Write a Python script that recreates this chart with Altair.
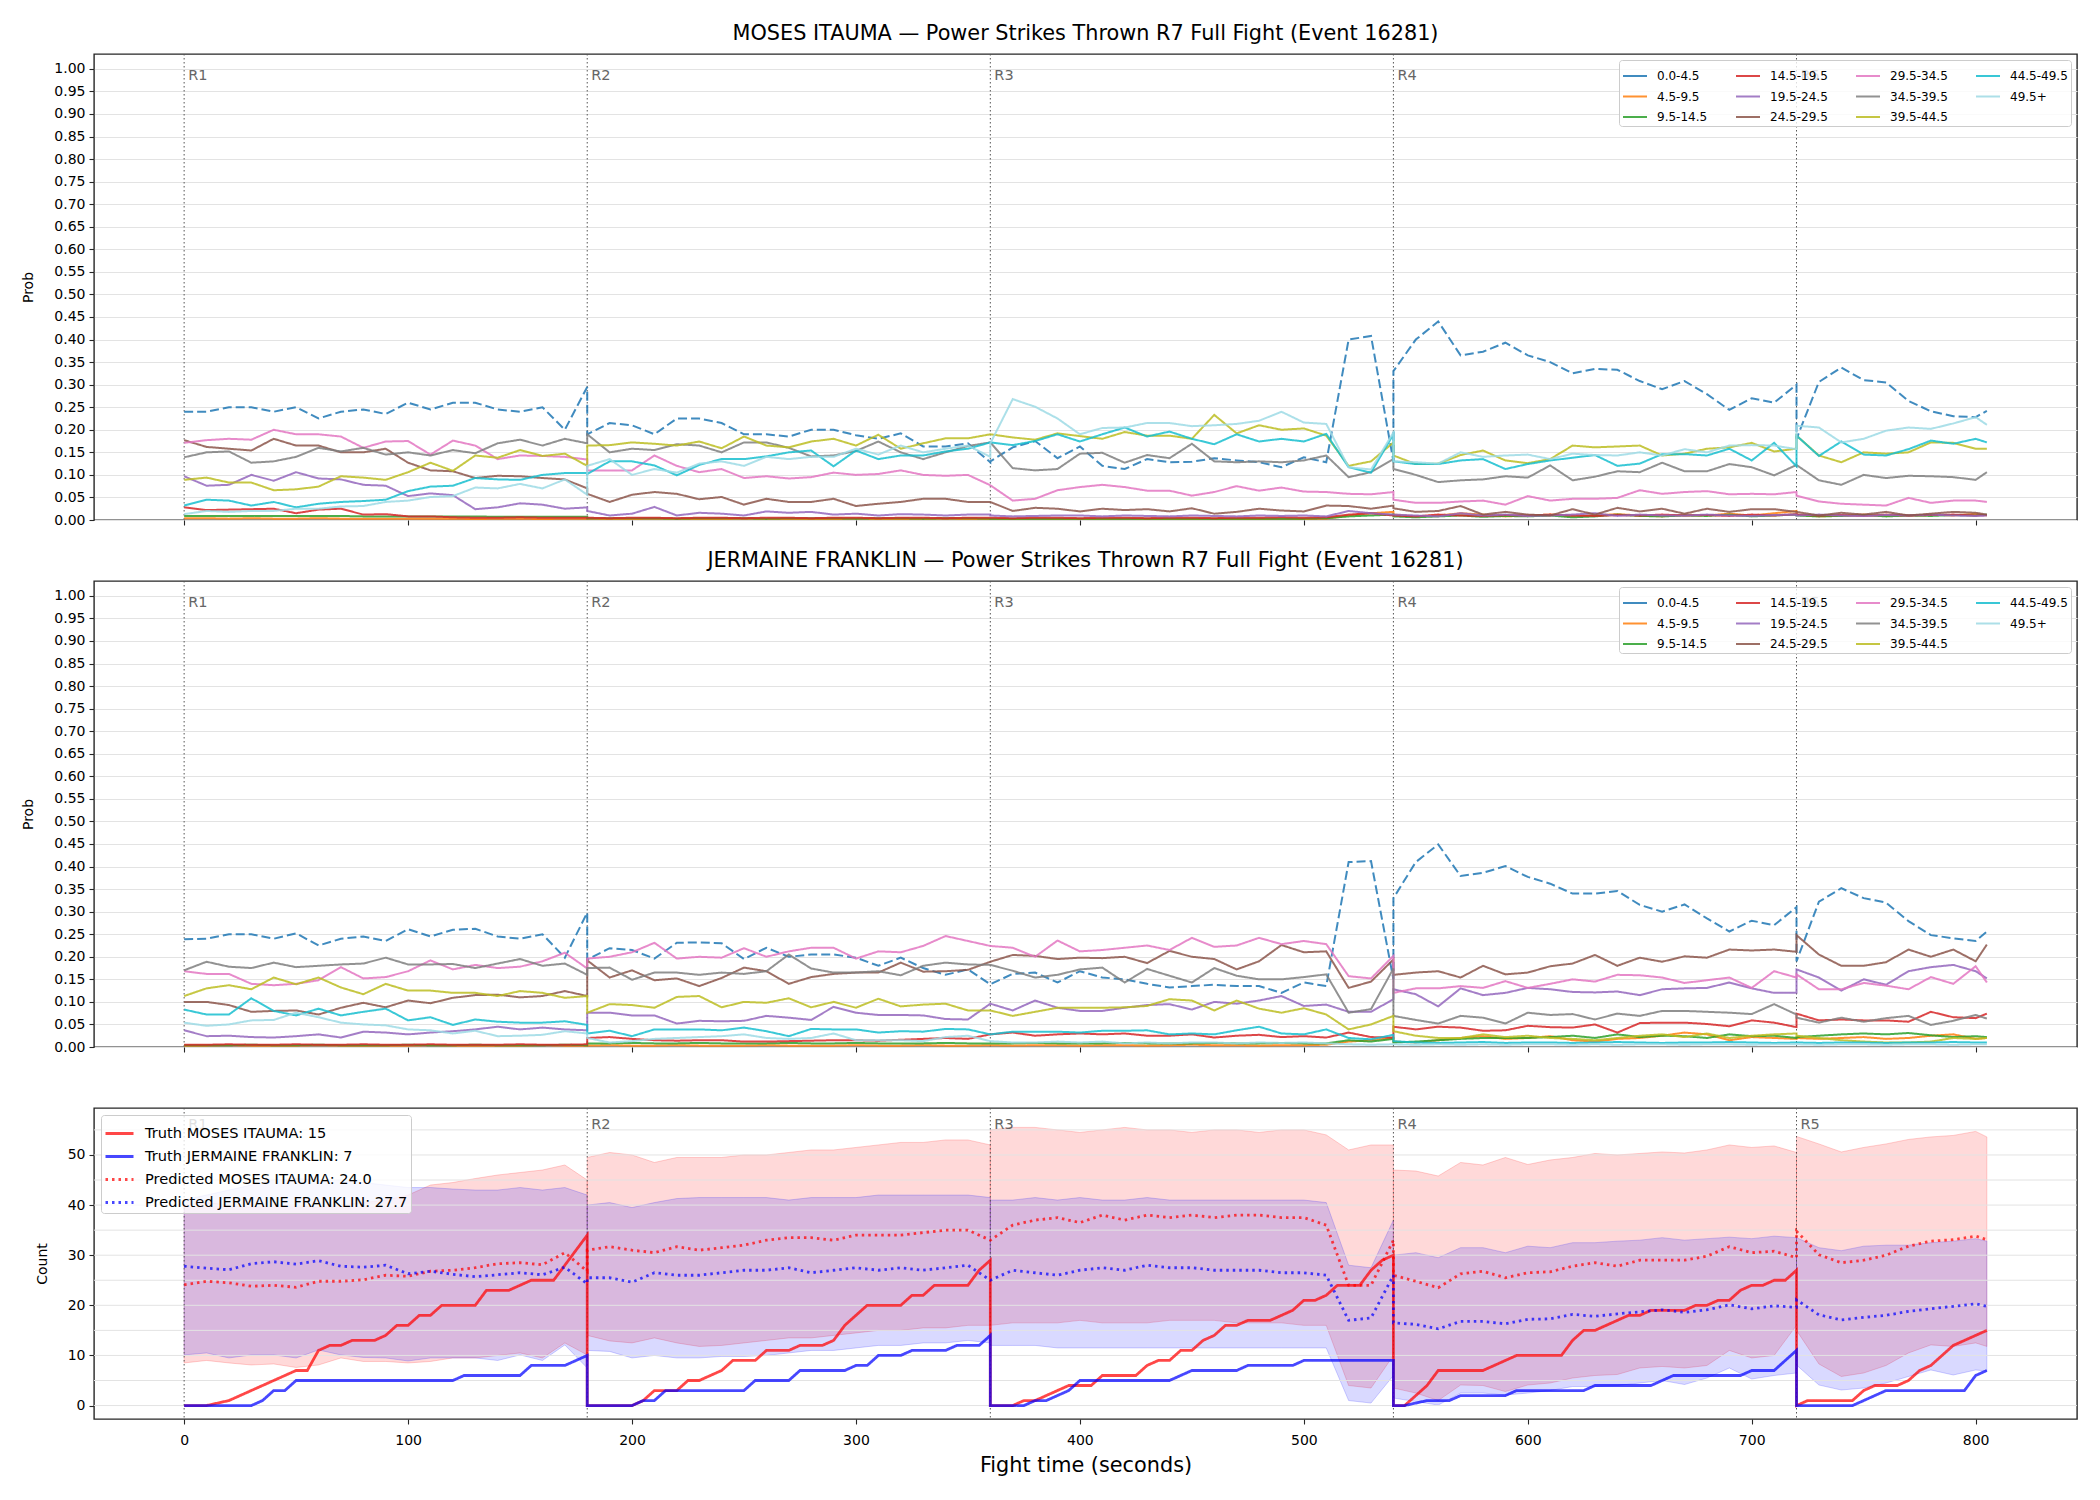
import altair as alt
import pandas as pd

# ---------------------------------------------------------------- time grids
# Probability panels and the predicted/band series are sampled every 10 s;
# each round repeats its boundary second so curves jump at the round change.
T_R1 = list(range(0, 181, 10))
T_R2 = list(range(180, 361, 10))
T_R3 = list(range(360, 541, 10))
T_R4 = list(range(540, 721, 10))
T_R5 = list(range(720, 801, 10)) + [805]
T_PROB = T_R1 + T_R2 + T_R3 + T_R4 + T_R5
ROUND_OF = [1] * len(T_R1) + [2] * len(T_R2) + [3] * len(T_R3) + [4] * len(T_R4) + [5] * len(T_R5)

# Truth counts are sampled every 5 s.
T5 = (list(range(0, 181, 5)) + list(range(180, 361, 5)) + list(range(360, 541, 5))
      + list(range(540, 721, 5)) + list(range(720, 806, 5)))

ROUND_STARTS = [0, 180, 360, 540, 720]
ROUND_LABELS = ["R1", "R2", "R3", "R4", "R5"]

BINS = ["0.0-4.5", "4.5-9.5", "9.5-14.5", "14.5-19.5", "19.5-24.5", "24.5-29.5",
        "29.5-34.5", "34.5-39.5", "39.5-44.5", "44.5-49.5", "49.5+"]
BIN_COLORS = ["#1f77b4", "#ff7f0e", "#2ca02c", "#d62728", "#9467bd", "#8c564b",
              "#e377c2", "#7f7f7f", "#bcbd22", "#17becf", "#9edae5"]

# ------------------------------------------------ MOSES ITAUMA probabilities
ITA_00 = [0.24, 0.24, 0.25, 0.25, 0.24, 0.25, 0.225, 0.24, 0.245, 0.235, 0.26, 0.245, 0.26, 0.26, 0.245, 0.24, 0.25, 0.20, 0.295,
          0.19, 0.215, 0.21, 0.19, 0.225, 0.225, 0.215, 0.19, 0.19, 0.185, 0.20, 0.20, 0.188, 0.18, 0.192, 0.163, 0.163, 0.17, 0.128,
          0.13, 0.161, 0.175, 0.137, 0.163, 0.12, 0.113, 0.135, 0.128, 0.129, 0.137, 0.132, 0.128, 0.117, 0.139, 0.128, 0.40, 0.408, 0.13,
          0.33, 0.40, 0.44, 0.365, 0.373, 0.393, 0.365, 0.35, 0.325, 0.335, 0.333, 0.308, 0.29, 0.308, 0.279, 0.244, 0.27, 0.26, 0.30,
          0.18, 0.306, 0.338, 0.31, 0.305, 0.264, 0.241, 0.23, 0.228, 0.242]
ITA_45 = [0.004, 0.004, 0.003, 0.004, 0.003, 0.003, 0.004, 0.003, 0.003, 0.003, 0.003, 0.003, 0.003, 0.002, 0.003, 0.003, 0.002, 0.003, 0.003,
          0.003, 0.002, 0.002, 0.003, 0.002, 0.002, 0.002, 0.003, 0.002, 0.002, 0.002, 0.002, 0.003, 0.002, 0.002, 0.002, 0.003, 0.002, 0.002,
          0.002, 0.002, 0.003, 0.002, 0.002, 0.002, 0.003, 0.002, 0.002, 0.002, 0.003, 0.002, 0.002, 0.003, 0.002, 0.003, 0.01, 0.015, 0.018,
          0.012, 0.008, 0.01, 0.015, 0.012, 0.008, 0.01, 0.012, 0.009, 0.01, 0.013, 0.01, 0.008, 0.012, 0.01, 0.014, 0.01, 0.015, 0.02,
          0.012, 0.008, 0.01, 0.012, 0.009, 0.01, 0.012, 0.01, 0.014, 0.01]
ITA_95 = [0.009, 0.009, 0.009, 0.009, 0.009, 0.009, 0.009, 0.009, 0.008, 0.008, 0.008, 0.008, 0.008, 0.008, 0.007, 0.007, 0.007, 0.007, 0.007,
          0.004, 0.004, 0.004, 0.004, 0.003, 0.004, 0.004, 0.004, 0.003, 0.004, 0.004, 0.004, 0.003, 0.004, 0.004, 0.003, 0.004, 0.004, 0.003,
          0.003, 0.003, 0.003, 0.003, 0.003, 0.003, 0.003, 0.003, 0.003, 0.003, 0.003, 0.003, 0.003, 0.003, 0.003, 0.004, 0.008, 0.01, 0.012,
          0.008, 0.006, 0.008, 0.01, 0.007, 0.009, 0.008, 0.01, 0.006, 0.008, 0.012, 0.009, 0.008, 0.01, 0.009, 0.012, 0.008, 0.01, 0.012,
          0.01, 0.008, 0.009, 0.011, 0.008, 0.01, 0.009, 0.011, 0.01, 0.012]
ITA_145 = [0.028, 0.022, 0.023, 0.024, 0.025, 0.015, 0.023, 0.025, 0.012, 0.013, 0.008, 0.008, 0.006, 0.005, 0.005, 0.006, 0.005, 0.005, 0.005,
           0.005, 0.004, 0.005, 0.005, 0.004, 0.005, 0.005, 0.004, 0.005, 0.005, 0.004, 0.005, 0.005, 0.004, 0.005, 0.005, 0.004, 0.005, 0.005,
           0.005, 0.004, 0.005, 0.005, 0.004, 0.005, 0.005, 0.004, 0.005, 0.005, 0.004, 0.005, 0.005, 0.006, 0.005, 0.006, 0.012, 0.015, 0.01,
           0.01, 0.008, 0.012, 0.01, 0.009, 0.011, 0.01, 0.012, 0.01, 0.009, 0.011, 0.01, 0.012, 0.01, 0.011, 0.009, 0.012, 0.01, 0.013,
           0.012, 0.01, 0.011, 0.009, 0.012, 0.01, 0.011, 0.012, 0.01, 0.011]
ITA_195 = [0.097, 0.076, 0.078, 0.10, 0.087, 0.106, 0.092, 0.09, 0.078, 0.076, 0.053, 0.059, 0.055, 0.024, 0.028, 0.037, 0.034, 0.025, 0.028,
           0.02, 0.01, 0.014, 0.029, 0.01, 0.016, 0.014, 0.01, 0.019, 0.016, 0.018, 0.012, 0.014, 0.01, 0.013, 0.012, 0.01, 0.012, 0.012,
           0.01, 0.008, 0.009, 0.01, 0.01, 0.008, 0.01, 0.009, 0.008, 0.01, 0.009, 0.008, 0.01, 0.009, 0.01, 0.008, 0.02, 0.015, 0.012,
           0.012, 0.01, 0.008, 0.015, 0.01, 0.012, 0.009, 0.01, 0.012, 0.015, 0.009, 0.012, 0.01, 0.01, 0.012, 0.01, 0.009, 0.011, 0.012,
           0.01, 0.012, 0.01, 0.009, 0.011, 0.01, 0.012, 0.01, 0.009, 0.01]
ITA_245 = [0.177, 0.162, 0.158, 0.154, 0.18, 0.165, 0.165, 0.15, 0.15, 0.158, 0.127, 0.11, 0.108, 0.093, 0.098, 0.097, 0.093, 0.09, 0.07,
           0.058, 0.04, 0.056, 0.062, 0.058, 0.046, 0.051, 0.034, 0.047, 0.04, 0.04, 0.047, 0.031, 0.036, 0.04, 0.047, 0.047, 0.04, 0.04,
           0.04, 0.02, 0.027, 0.025, 0.019, 0.025, 0.022, 0.024, 0.019, 0.026, 0.014, 0.018, 0.025, 0.021, 0.019, 0.032, 0.031, 0.025, 0.032,
           0.026, 0.018, 0.02, 0.031, 0.012, 0.018, 0.012, 0.01, 0.024, 0.012, 0.027, 0.019, 0.025, 0.014, 0.025, 0.018, 0.024, 0.024, 0.018,
           0.018, 0.01, 0.016, 0.012, 0.018, 0.01, 0.014, 0.018, 0.016, 0.012]
ITA_295 = [0.171, 0.177, 0.18, 0.178, 0.20, 0.19, 0.19, 0.185, 0.16, 0.174, 0.175, 0.145, 0.176, 0.165, 0.135, 0.143, 0.142, 0.14, 0.134,
           0.11, 0.11, 0.11, 0.143, 0.12, 0.106, 0.113, 0.093, 0.097, 0.092, 0.095, 0.105, 0.10, 0.102, 0.11, 0.10, 0.098, 0.10, 0.077,
           0.077, 0.043, 0.047, 0.066, 0.073, 0.078, 0.073, 0.065, 0.065, 0.054, 0.062, 0.075, 0.065, 0.072, 0.063, 0.062, 0.058, 0.057, 0.062,
           0.045, 0.038, 0.038, 0.041, 0.043, 0.034, 0.053, 0.043, 0.047, 0.047, 0.049, 0.066, 0.058, 0.062, 0.064, 0.057, 0.058, 0.057, 0.062,
           0.054, 0.041, 0.036, 0.034, 0.032, 0.049, 0.038, 0.043, 0.043, 0.04]
ITA_345 = [0.139, 0.15, 0.152, 0.127, 0.13, 0.14, 0.16, 0.152, 0.16, 0.145, 0.15, 0.143, 0.155, 0.148, 0.17, 0.178, 0.165, 0.18, 0.17,
           0.19, 0.15, 0.158, 0.155, 0.168, 0.165, 0.15, 0.172, 0.172, 0.16, 0.141, 0.143, 0.153, 0.174, 0.15, 0.135, 0.15, 0.164, 0.172,
           0.172, 0.115, 0.11, 0.113, 0.147, 0.149, 0.127, 0.144, 0.137, 0.169, 0.13, 0.128, 0.13, 0.128, 0.132, 0.143, 0.095, 0.106, 0.135,
           0.113, 0.1, 0.084, 0.088, 0.09, 0.097, 0.094, 0.121, 0.088, 0.096, 0.108, 0.106, 0.127, 0.108, 0.108, 0.124, 0.117, 0.099, 0.122,
           0.122, 0.088, 0.078, 0.1, 0.093, 0.098, 0.097, 0.095, 0.089, 0.106]
ITA_395 = [0.089, 0.094, 0.083, 0.083, 0.066, 0.068, 0.074, 0.097, 0.094, 0.089, 0.106, 0.127, 0.109, 0.143, 0.138, 0.155, 0.142, 0.147, 0.12,
           0.165, 0.166, 0.172, 0.169, 0.165, 0.174, 0.159, 0.185, 0.165, 0.161, 0.174, 0.18, 0.165, 0.189, 0.158, 0.17, 0.181, 0.181, 0.19,
           0.19, 0.183, 0.178, 0.192, 0.186, 0.18, 0.195, 0.187, 0.187, 0.18, 0.233, 0.192, 0.21, 0.2, 0.203, 0.187, 0.12, 0.13, 0.172,
           0.143, 0.124, 0.125, 0.144, 0.154, 0.132, 0.126, 0.135, 0.165, 0.161, 0.163, 0.165, 0.143, 0.147, 0.158, 0.161, 0.171, 0.152, 0.158,
           0.187, 0.143, 0.128, 0.15, 0.147, 0.15, 0.172, 0.171, 0.158, 0.158]
ITA_445 = [0.032, 0.045, 0.043, 0.032, 0.04, 0.028, 0.036, 0.04, 0.042, 0.045, 0.064, 0.074, 0.076, 0.093, 0.09, 0.089, 0.1, 0.104, 0.104,
           0.102, 0.13, 0.13, 0.121, 0.099, 0.122, 0.135, 0.135, 0.141, 0.15, 0.154, 0.119, 0.154, 0.135, 0.143, 0.143, 0.152, 0.158, 0.172,
           0.172, 0.166, 0.175, 0.19, 0.174, 0.19, 0.205, 0.185, 0.196, 0.18, 0.168, 0.19, 0.174, 0.18, 0.174, 0.191, 0.117, 0.105, 0.19,
           0.13, 0.124, 0.124, 0.132, 0.135, 0.113, 0.124, 0.132, 0.138, 0.144, 0.12, 0.125, 0.146, 0.146, 0.143, 0.158, 0.132, 0.171, 0.119,
           0.187, 0.142, 0.174, 0.145, 0.143, 0.157, 0.176, 0.169, 0.18, 0.172]
ITA_495 = [0.013, 0.02, 0.018, 0.02, 0.02, 0.025, 0.025, 0.03, 0.031, 0.04, 0.043, 0.051, 0.053, 0.072, 0.07, 0.08, 0.07, 0.09, 0.056,
           0.12, 0.135, 0.10, 0.113, 0.105, 0.125, 0.13, 0.12, 0.14, 0.135, 0.14, 0.14, 0.158, 0.145, 0.165, 0.15, 0.158, 0.165, 0.14,
           0.17, 0.268, 0.251, 0.225, 0.19, 0.204, 0.205, 0.215, 0.215, 0.208, 0.21, 0.213, 0.22, 0.24, 0.216, 0.213, 0.117, 0.112, 0.194,
           0.13, 0.128, 0.125, 0.15, 0.14, 0.143, 0.145, 0.135, 0.147, 0.144, 0.143, 0.15, 0.143, 0.157, 0.15, 0.165, 0.166, 0.165, 0.157,
           0.209, 0.205, 0.172, 0.18, 0.198, 0.205, 0.202, 0.214, 0.228, 0.211]

# --------------------------------------------- JERMAINE FRANKLIN probabilities
FRA_00 = [0.239, 0.24, 0.25, 0.25, 0.24, 0.252, 0.225, 0.24, 0.245, 0.235, 0.261, 0.245, 0.26, 0.262, 0.245, 0.24, 0.25, 0.198, 0.298,
          0.194, 0.219, 0.215, 0.196, 0.231, 0.232, 0.23, 0.195, 0.22, 0.2, 0.205, 0.205, 0.198, 0.18, 0.198, 0.175, 0.16, 0.172, 0.139,
          0.139, 0.162, 0.165, 0.143, 0.168, 0.154, 0.15, 0.14, 0.132, 0.135, 0.138, 0.135, 0.135, 0.12, 0.143, 0.135, 0.41, 0.412, 0.15,
          0.33, 0.41, 0.449, 0.379, 0.386, 0.401, 0.377, 0.362, 0.34, 0.34, 0.346, 0.315, 0.3, 0.316, 0.285, 0.256, 0.28, 0.27, 0.31,
          0.19, 0.322, 0.352, 0.33, 0.32, 0.279, 0.248, 0.241, 0.235, 0.256]
FRA_45 = [0.003, 0.003, 0.004, 0.003, 0.003, 0.003, 0.004, 0.003, 0.003, 0.003, 0.003, 0.004, 0.003, 0.003, 0.003, 0.003, 0.004, 0.003, 0.003,
          0.003, 0.004, 0.003, 0.003, 0.004, 0.003, 0.003, 0.003, 0.004, 0.003, 0.003, 0.003, 0.004, 0.003, 0.003, 0.004, 0.003, 0.003, 0.004,
          0.004, 0.003, 0.004, 0.004, 0.003, 0.004, 0.004, 0.003, 0.004, 0.005, 0.004, 0.004, 0.003, 0.004, 0.004, 0.005, 0.012, 0.015, 0.02,
          0.012, 0.01, 0.015, 0.02, 0.024, 0.018, 0.02, 0.024, 0.015, 0.012, 0.018, 0.02, 0.025, 0.032, 0.028, 0.015, 0.022, 0.02, 0.018,
          0.02, 0.018, 0.02, 0.022, 0.018, 0.02, 0.025, 0.028, 0.018, 0.02]
FRA_95 = [0.004, 0.004, 0.004, 0.005, 0.004, 0.004, 0.005, 0.004, 0.004, 0.004, 0.005, 0.004, 0.004, 0.005, 0.004, 0.004, 0.004, 0.005, 0.004,
          0.008, 0.008, 0.009, 0.008, 0.008, 0.009, 0.008, 0.008, 0.008, 0.009, 0.008, 0.008, 0.009, 0.008, 0.008, 0.008, 0.009, 0.008, 0.008,
          0.008, 0.008, 0.009, 0.008, 0.008, 0.008, 0.009, 0.008, 0.008, 0.008, 0.009, 0.008, 0.008, 0.009, 0.008, 0.008, 0.015, 0.012, 0.018,
          0.01, 0.012, 0.015, 0.018, 0.02, 0.02, 0.02, 0.022, 0.025, 0.02, 0.028, 0.022, 0.025, 0.024, 0.02, 0.028, 0.024, 0.025, 0.02,
          0.022, 0.025, 0.028, 0.03, 0.028, 0.031, 0.026, 0.022, 0.024, 0.022]
FRA_145 = [0.005, 0.005, 0.006, 0.005, 0.005, 0.006, 0.005, 0.005, 0.006, 0.005, 0.005, 0.006, 0.005, 0.005, 0.005, 0.006, 0.005, 0.005, 0.006,
           0.02, 0.022, 0.018, 0.015, 0.014, 0.015, 0.015, 0.012, 0.012, 0.013, 0.014, 0.015, 0.015, 0.014, 0.016, 0.018, 0.02, 0.018, 0.028,
           0.028, 0.032, 0.025, 0.028, 0.03, 0.028, 0.03, 0.025, 0.025, 0.028, 0.021, 0.025, 0.027, 0.022, 0.024, 0.021, 0.032, 0.022, 0.021,
           0.045, 0.039, 0.045, 0.043, 0.036, 0.037, 0.047, 0.044, 0.043, 0.05, 0.032, 0.053, 0.054, 0.054, 0.051, 0.046, 0.059, 0.054, 0.044,
           0.074, 0.059, 0.061, 0.059, 0.059, 0.056, 0.078, 0.066, 0.064, 0.074]
FRA_195 = [0.037, 0.024, 0.025, 0.022, 0.021, 0.024, 0.028, 0.021, 0.034, 0.032, 0.028, 0.032, 0.035, 0.039, 0.045, 0.039, 0.043, 0.039, 0.037,
           0.076, 0.076, 0.07, 0.07, 0.052, 0.058, 0.057, 0.058, 0.069, 0.065, 0.06, 0.089, 0.076, 0.071, 0.071, 0.07, 0.062, 0.061, 0.096,
           0.096, 0.081, 0.103, 0.087, 0.08, 0.08, 0.087, 0.093, 0.095, 0.083, 0.1, 0.096, 0.103, 0.113, 0.091, 0.094, 0.078, 0.078, 0.106,
           0.128, 0.117, 0.09, 0.13, 0.115, 0.12, 0.131, 0.128, 0.122, 0.121, 0.123, 0.115, 0.128, 0.13, 0.131, 0.143, 0.13, 0.12, 0.12,
           0.172, 0.154, 0.125, 0.15, 0.138, 0.168, 0.177, 0.182, 0.168, 0.152]
FRA_245 = [0.1, 0.1, 0.093, 0.078, 0.08, 0.081, 0.072, 0.087, 0.098, 0.088, 0.103, 0.097, 0.109, 0.115, 0.116, 0.11, 0.113, 0.124, 0.113,
           0.192, 0.154, 0.17, 0.148, 0.152, 0.135, 0.153, 0.176, 0.168, 0.14, 0.155, 0.162, 0.165, 0.165, 0.187, 0.167, 0.168, 0.171, 0.189,
           0.189, 0.204, 0.202, 0.195, 0.198, 0.197, 0.2, 0.186, 0.213, 0.2, 0.195, 0.172, 0.19, 0.226, 0.21, 0.212, 0.131, 0.145, 0.194,
           0.16, 0.165, 0.168, 0.154, 0.18, 0.161, 0.165, 0.179, 0.185, 0.204, 0.18, 0.198, 0.189, 0.201, 0.198, 0.216, 0.214, 0.216, 0.211,
           0.248, 0.205, 0.18, 0.18, 0.188, 0.216, 0.2, 0.216, 0.19, 0.227]
FRA_295 = [0.168, 0.162, 0.162, 0.14, 0.137, 0.14, 0.148, 0.177, 0.152, 0.155, 0.168, 0.192, 0.172, 0.182, 0.175, 0.178, 0.19, 0.209, 0.174,
           0.196, 0.2, 0.21, 0.231, 0.196, 0.2, 0.198, 0.219, 0.2, 0.212, 0.22, 0.22, 0.196, 0.212, 0.21, 0.224, 0.246, 0.235, 0.224,
           0.224, 0.22, 0.2, 0.236, 0.212, 0.215, 0.22, 0.225, 0.215, 0.242, 0.222, 0.225, 0.242, 0.228, 0.235, 0.228, 0.157, 0.152, 0.202,
           0.12, 0.13, 0.13, 0.135, 0.131, 0.146, 0.131, 0.14, 0.15, 0.145, 0.16, 0.159, 0.154, 0.142, 0.148, 0.154, 0.131, 0.168, 0.154,
           0.161, 0.128, 0.128, 0.142, 0.136, 0.128, 0.155, 0.14, 0.179, 0.143]
FRA_345 = [0.17, 0.189, 0.178, 0.175, 0.187, 0.177, 0.18, 0.183, 0.185, 0.198, 0.183, 0.183, 0.184, 0.175, 0.185, 0.195, 0.18, 0.185, 0.16,
           0.175, 0.176, 0.149, 0.165, 0.165, 0.16, 0.165, 0.162, 0.168, 0.205, 0.174, 0.165, 0.165, 0.168, 0.159, 0.18, 0.187, 0.183, 0.182,
           0.182, 0.169, 0.154, 0.16, 0.172, 0.176, 0.143, 0.173, 0.158, 0.143, 0.175, 0.158, 0.15, 0.15, 0.155, 0.161, 0.076, 0.084, 0.174,
           0.069, 0.06, 0.052, 0.069, 0.065, 0.052, 0.076, 0.071, 0.073, 0.061, 0.074, 0.069, 0.08, 0.08, 0.078, 0.076, 0.073, 0.095, 0.072,
           0.065, 0.054, 0.065, 0.056, 0.064, 0.069, 0.049, 0.058, 0.071, 0.063]
FRA_395 = [0.113, 0.13, 0.137, 0.128, 0.154, 0.139, 0.154, 0.132, 0.117, 0.14, 0.125, 0.125, 0.12, 0.12, 0.113, 0.124, 0.12, 0.109, 0.113,
           0.076, 0.095, 0.093, 0.087, 0.111, 0.113, 0.088, 0.1, 0.098, 0.108, 0.088, 0.1, 0.087, 0.107, 0.09, 0.094, 0.096, 0.081, 0.081,
           0.081, 0.069, 0.078, 0.087, 0.087, 0.087, 0.088, 0.091, 0.106, 0.103, 0.081, 0.103, 0.085, 0.076, 0.086, 0.072, 0.039, 0.05, 0.069,
           0.035, 0.025, 0.02, 0.02, 0.028, 0.022, 0.025, 0.02, 0.018, 0.015, 0.02, 0.025, 0.028, 0.022, 0.03, 0.02, 0.025, 0.028, 0.03,
           0.025, 0.02, 0.015, 0.012, 0.01, 0.01, 0.012, 0.02, 0.018, 0.02]
FRA_445 = [0.083, 0.072, 0.072, 0.108, 0.08, 0.07, 0.085, 0.07, 0.078, 0.085, 0.059, 0.066, 0.049, 0.061, 0.056, 0.054, 0.054, 0.057, 0.049,
           0.03, 0.036, 0.024, 0.039, 0.039, 0.039, 0.037, 0.043, 0.035, 0.024, 0.04, 0.039, 0.039, 0.032, 0.035, 0.034, 0.04, 0.039, 0.028,
           0.028, 0.034, 0.034, 0.034, 0.032, 0.036, 0.036, 0.037, 0.028, 0.03, 0.028, 0.037, 0.045, 0.03, 0.028, 0.039, 0.02, 0.017, 0.027,
           0.013, 0.01, 0.009, 0.01, 0.011, 0.009, 0.01, 0.01, 0.009, 0.01, 0.011, 0.01, 0.009, 0.01, 0.01, 0.011, 0.01, 0.009, 0.01,
           0.01, 0.009, 0.01, 0.01, 0.009, 0.01, 0.01, 0.011, 0.01, 0.01]
FRA_495 = [0.054, 0.047, 0.05, 0.059, 0.06, 0.076, 0.066, 0.054, 0.05, 0.048, 0.039, 0.037, 0.03, 0.036, 0.024, 0.025, 0.027, 0.035, 0.03,
           0.02, 0.01, 0.013, 0.018, 0.02, 0.022, 0.024, 0.028, 0.02, 0.018, 0.02, 0.03, 0.015, 0.015, 0.015, 0.013, 0.022, 0.025, 0.013,
           0.013, 0.01, 0.01, 0.012, 0.01, 0.012, 0.008, 0.01, 0.008, 0.01, 0.01, 0.008, 0.01, 0.009, 0.01, 0.008, 0.006, 0.005, 0.006,
           0.006, 0.005, 0.006, 0.005, 0.006, 0.005, 0.006, 0.006, 0.005, 0.006, 0.005, 0.006, 0.006, 0.005, 0.006, 0.006, 0.005, 0.006, 0.006,
           0.006, 0.005, 0.006, 0.006, 0.005, 0.006, 0.006, 0.005, 0.006, 0.006]

# ------------------------------------------------------ cumulative counts
TRUTH_ITAUMA = [0, 0, 0, 0.5, 1, 2, 3, 4, 5, 6, 7, 7, 11, 12, 12, 13, 13, 13, 14, 16, 16, 18, 18, 20, 20, 20, 20, 23, 23, 23, 24, 25, 25, 25, 28, 31, 34,
                0, 0, 0, 0, 0, 1, 3, 3, 3, 5, 5, 6, 7, 9, 9, 9, 11, 11, 11, 12, 12, 12, 13, 16, 18, 20, 20, 20, 20, 22, 22, 24, 24, 24, 24, 27, 29,
                0, 0, 0, 1, 1, 2, 3, 4, 4, 4, 6, 6, 6, 6, 8, 9, 9, 11, 11, 13, 14, 16, 16, 17, 17, 17, 18, 19, 21, 21, 22, 24, 24, 24, 27, 29, 30,
                0, 0, 2, 4, 7, 7, 7, 7, 7, 8, 9, 10, 10, 10, 10, 10, 13, 15, 15, 16, 17, 18, 18, 19, 19, 19, 19, 20, 20, 21, 21, 23, 24, 24, 25, 25, 27,
                0, 1, 1, 1, 1, 1, 3, 4, 4, 4, 5, 7, 8, 10, 12, 13, 14, 15]
TRUTH_FRANKLIN = [0, 0, 0, 0, 0, 0, 0, 1, 3, 3, 5, 5, 5, 5, 5, 5, 5, 5, 5, 5, 5, 5, 5, 5, 5, 6, 6, 6, 6, 6, 6, 8, 8, 8, 8, 9, 10,
                  0, 0, 0, 0, 0, 1, 1, 3, 3, 3, 3, 3, 3, 3, 3, 5, 5, 5, 5, 7, 7, 7, 7, 7, 8, 8, 10, 10, 10, 11, 11, 11, 11, 12, 12, 12, 14,
                  0, 0, 0, 0, 1, 1, 2, 3, 5, 5, 5, 5, 5, 5, 5, 5, 5, 6, 7, 7, 7, 7, 7, 8, 8, 8, 8, 8, 9, 9, 9, 9, 9, 9, 9, 9, 9,
                  0, 0, 0.5, 1, 1, 1, 2, 2, 2, 2, 2, 3, 3, 3, 3, 3, 3, 3, 4, 4, 4, 4, 4, 4, 5, 6, 6, 6, 6, 6, 6, 6, 7, 7, 7, 9, 11,
                  0, 0, 0, 0, 0, 0, 1, 2, 3, 3, 3, 3, 3, 3, 3, 3, 6, 7]

PRED_ITAUMA = [24.1, 24.8, 24.5, 23.8, 24, 23.6, 24.8, 24.8, 25.1, 26, 25.8, 26.8, 27, 27.5, 28.3, 28.5, 28.1, 30.5, 26.8,
               31, 31.7, 31, 30.5, 31.7, 31, 31.5, 32, 33, 33.5, 33.5, 33, 34, 34, 34, 34.5, 35, 35, 33,
               33, 36, 37, 37.5, 36.5, 38, 37, 38, 37.5, 38, 37.5, 38, 38, 37.5, 37.5, 36, 24, 24, 33,
               26, 24.8, 23.5, 26.3, 26.8, 25.5, 26.5, 26.7, 27.8, 28.5, 27.8, 29, 29, 29, 29.8, 31.7, 30.5, 30.8, 29.5,
               34.8, 30.1, 28.5, 29, 30, 31.8, 32.8, 33.1, 33.8, 33.1]
PRED_FRANKLIN = [27.8, 27.4, 27.1, 28.3, 28.7, 28.2, 28.9, 27.8, 27.6, 28, 26.3, 26.8, 26.2, 25.7, 26.1, 26.5, 26.1, 27.6, 24.3,
                 25.5, 25.5, 24.6, 26.5, 26, 26, 26.5, 27, 27, 27.5, 26.5, 27, 27.5, 27, 27.5, 27, 27.5, 28, 25,
                 25, 27, 26.5, 26, 27, 27.5, 27, 28, 27.5, 27.5, 27, 27, 27, 26.5, 26.5, 26, 17, 17.5, 26,
                 16.5, 16.2, 15.3, 16.8, 16.8, 16.3, 17.2, 17.3, 18.2, 17.8, 18.3, 18.7, 19.1, 18.6, 19.1, 20.1, 19.3, 19.9, 19.6,
                 21.1, 18.1, 17.1, 17.6, 18.0, 18.8, 19.3, 19.8, 20.3, 19.8]

BAND_ITAUMA_HI = [40, 40.5, 40, 39.5, 40, 40, 39.5, 40, 40.5, 41, 42, 44, 44.5, 45.3, 46, 46.5, 47, 48, 45,
                  49.5, 50.5, 50, 48.5, 49.5, 49.5, 49.5, 50, 50, 50.5, 51, 51, 51.5, 52, 52.5, 52.5, 53, 53, 52,
                  55, 55.5, 55.5, 55, 54.5, 55, 55.5, 55, 55, 54.5, 55, 55, 54.5, 55, 55, 54, 51, 52, 52,
                  47, 46.8, 45.8, 48.5, 48, 49.5, 48.1, 49, 49.5, 50.3, 50, 50.3, 50.6, 50.4, 51, 52, 51.5, 51.8, 50.5,
                  53.7, 52.2, 50.6, 51.5, 52.2, 53.1, 53.6, 53.9, 54.7, 53.6]
BAND_ITAUMA_LO = [8.5, 9, 8.5, 8.1, 8.3, 7.6, 8.1, 9.5, 8.8, 8.8, 8.5, 8.8, 9.5, 9.5, 10, 10.5, 9.5, 12.5, 10.1,
                  14, 12.9, 12.5, 13.5, 12.5, 11.8, 12, 12.5, 13, 13.5, 13.5, 14, 14.5, 15, 15, 15.5, 15.5, 16, 16,
                  16, 16.5, 16.5, 16.5, 17, 16.5, 16.5, 16.5, 17, 17, 17, 16.5, 16.5, 16.5, 16, 16, 4, 3.5, 10,
                  3.5, 2.5, 1, 4.1, 4, 2.8, 4.1, 4.5, 5.5, 6, 6.2, 7.5, 7.8, 7.5, 8, 11, 9.5, 10, 16,
                  15, 8.3, 5.8, 6.5, 8, 10.5, 12.1, 11.8, 12.5, 11.8]
BAND_FRANKLIN_HI = [41, 42, 43, 44, 45, 45.3, 45, 45, 44.5, 44, 43.5, 43.5, 43.2, 43, 43, 43.5, 43, 43.5, 42,
                    40, 40.5, 39.5, 40.5, 41.3, 41.5, 41.5, 41.5, 41.5, 41, 41.5, 41.5, 41.5, 42, 42, 42, 42, 42, 41.5,
                    41, 41, 41.5, 41, 41.5, 41, 41, 41.5, 41, 41, 41, 41, 41, 41, 41, 40.5, 28, 27.5, 37,
                    30, 30.5, 29.5, 31.5, 31.5, 30.5, 31.8, 31.5, 32.5, 32.5, 32.8, 33, 33.5, 33, 33.3, 33.6, 33.3, 33.8, 33.5,
                    33.5, 31.5, 30.9, 31.8, 32, 32, 32.5, 32.8, 33.3, 32.8]
BAND_FRANKLIN_LO = [10.1, 10.5, 9.5, 10.1, 10.1, 9.5, 11.1, 10.1, 9.6, 9.5, 8.9, 9.5, 9.5, 9.5, 9, 10.1, 9, 12.1, 7.5,
                    11, 10.8, 9.5, 10, 9.5, 9.5, 9.8, 9.8, 10, 10.5, 11, 11, 11.5, 12, 12, 12.5, 12.5, 13, 12.5,
                    12, 12, 12, 11.5, 11.5, 11.5, 11.5, 11.5, 11.5, 11.5, 11.5, 11.5, 11.5, 11.5, 11.5, 11.5, 1, 0.5, 6,
                    1.5, 0.8, 0.1, 2.5, 2.5, 2.1, 2.5, 3, 3.8, 3.8, 4, 4.5, 5, 4.2, 5.5, 7.5, 5.3, 6, 6.5,
                    8.1, 4.1, 3.1, 3.5, 4.5, 5.8, 7.1, 6.1, 7.1, 6.9]

LEGEND_TRUTH_I = "Truth MOSES ITAUMA: 15"
LEGEND_TRUTH_F = "Truth JERMAINE FRANKLIN: 7"
LEGEND_PRED_I = "Predicted MOSES ITAUMA: 24.0"
LEGEND_PRED_F = "Predicted JERMAINE FRANKLIN: 27.7"

TITLE_I = "MOSES ITAUMA \u2014 Power Strikes Thrown R7 Full Fight (Event 16281)"
TITLE_F = "JERMAINE FRANKLIN \u2014 Power Strikes Thrown R7 Full Fight (Event 16281)"

# ----------------------------------------------------------------- layout
FONT = "DejaVu Sans"
W = 1983
H_PROB = 466
H_COUNT = 311
X_DOMAIN = [-40.25, 845.25]
X_TICKS = [0, 100, 200, 300, 400, 500, 600, 700, 800]
PROB_TICKS = [round(0.05 * i, 2) for i in range(21)]
COUNT_TICKS = [0, 10, 20, 30, 40, 50]
COUNT_GRID = [0, 5, 10, 15, 20, 25, 30, 35, 40, 45, 50, 55]

x_scale = alt.Scale(domain=X_DOMAIN, nice=False, zero=False)

rounds_df = pd.DataFrame({"t": ROUND_STARTS, "label": ROUND_LABELS})


def prob_frame(columns):
    recs = []
    for name, vals in zip(BINS, columns):
        assert len(vals) == len(T_PROB), (name, len(vals))
        style = "dashed" if name == BINS[0] else "solid"
        for i, (t, v) in enumerate(zip(T_PROB, vals)):
            recs.append((t, v, name, style, i))
    return pd.DataFrame(recs, columns=["t", "p", "bin", "style", "idx"])


def round_marks(label_y):
    rules = alt.Chart(rounds_df).mark_rule(
        color="#555555", strokeWidth=1, strokeDash=[1.5, 2.5]
    ).encode(x=alt.X("t:Q", scale=x_scale))
    labels = alt.Chart(rounds_df).mark_text(
        align="left", baseline="middle", dx=4, font=FONT, fontSize=14.5, color="#666666"
    ).encode(x=alt.X("t:Q", scale=x_scale), y=alt.value(label_y), text="label:N")
    return rules, labels


def prob_panel(columns, title):
    df = prob_frame(columns)
    lines = alt.Chart(df).mark_line(strokeWidth=2, opacity=0.85).encode(
        x=alt.X("t:Q", scale=x_scale,
                axis=alt.Axis(values=X_TICKS, labels=False, title=None, grid=False)),
        y=alt.Y("p:Q", scale=alt.Scale(domain=[0, 1.033], nice=False, zero=False),
                axis=alt.Axis(values=PROB_TICKS, format=".2f", title="Prob", grid=True,
                              titlePadding=18)),
        # legend entries fill column by column, three rows per column
        color=alt.Color("bin:N", scale=alt.Scale(domain=BINS, range=BIN_COLORS),
                        legend=alt.Legend(
                            title=None, orient="top-right", columns=4, offset=6,
                            symbolType="stroke", symbolSize=576, symbolStrokeWidth=2,
                            labelFont=FONT, labelFontSize=12, labelOffset=9, labelLimit=300,
                            columnPadding=24, rowPadding=1.5, padding=3,
                            strokeColor="#cccccc", fillColor="rgba(255,255,255,0.8)",
                            cornerRadius=3)),
        strokeDash=alt.StrokeDash("style:N",
                                  scale=alt.Scale(domain=["solid", "dashed"], range=[[1, 0], [9, 4]]),
                                  legend=None),
        order=alt.Order("idx:Q"),
    )
    rules, labels = round_marks(22)
    return alt.layer(rules, lines, labels).properties(
        width=W, height=H_PROB, title=alt.TitleParams(title, fontSize=20.8, font=FONT,
                                                      fontWeight="normal", offset=9)
    )


def count_panel():
    series_dom = [LEGEND_TRUTH_I, LEGEND_TRUTH_F, LEGEND_PRED_I, LEGEND_PRED_F]
    recs = []
    for name, tt, vals in [(LEGEND_TRUTH_I, T5, TRUTH_ITAUMA), (LEGEND_TRUTH_F, T5, TRUTH_FRANKLIN),
                           (LEGEND_PRED_I, T_PROB, PRED_ITAUMA), (LEGEND_PRED_F, T_PROB, PRED_FRANKLIN)]:
        assert len(tt) == len(vals), (name, len(vals))
        for i, (t, v) in enumerate(zip(tt, vals)):
            recs.append((t, v, name, i))
    lines_df = pd.DataFrame(recs, columns=["t", "v", "series", "idx"])

    brecs = []
    for who, lo, hi in [("ITAUMA", BAND_ITAUMA_LO, BAND_ITAUMA_HI),
                        ("FRANKLIN", BAND_FRANKLIN_LO, BAND_FRANKLIN_HI)]:
        assert len(lo) == len(T_PROB) and len(hi) == len(T_PROB), who
        for t, r, a, b in zip(T_PROB, ROUND_OF, lo, hi):
            brecs.append((t, r, a, b, who))
    band_df = pd.DataFrame(brecs, columns=["t", "round", "lo", "hi", "who"])

    y_scale = alt.Scale(domain=[-2.68, 59.37], nice=False, zero=False)

    def band(who, color):
        return alt.Chart(band_df[band_df.who == who]).mark_area(
            color=color, fillOpacity=0.15, stroke=color, strokeOpacity=0.18, strokeWidth=1
        ).encode(
            x=alt.X("t:Q", scale=x_scale),
            y=alt.Y("lo:Q", scale=y_scale),
            y2="hi:Q",
            detail="round:N",
        )

    grid = alt.Chart(pd.DataFrame({"g": COUNT_GRID})).mark_rule(
        color="#e3e3e3", strokeWidth=1
    ).encode(y=alt.Y("g:Q", scale=y_scale))

    lines = alt.Chart(lines_df).mark_line().encode(
        x=alt.X("t:Q", scale=x_scale,
                axis=alt.Axis(values=X_TICKS, format="d", title="Fight time (seconds)",
                              titleFontSize=20.8, grid=False, titlePadding=8, labelPadding=9)),
        y=alt.Y("v:Q", scale=y_scale,
                axis=alt.Axis(values=COUNT_TICKS, title="Count", grid=False, titlePadding=18)),
        color=alt.Color("series:N", scale=alt.Scale(domain=series_dom,
                                                    range=["#ff0000", "#0000ff", "#ff0000", "#0000ff"]),
                        legend=alt.Legend(
                            title=None, orient="top-left", offset=7,
                            symbolType="stroke", symbolSize=784, symbolStrokeWidth=2.6,
                            labelFont=FONT, labelFontSize=14.6, labelOffset=10, labelLimit=400,
                            rowPadding=0, padding=3,
                            strokeColor="#cccccc", fillColor="rgba(255,255,255,0.8)",
                            cornerRadius=3)),
        strokeDash=alt.StrokeDash("series:N", scale=alt.Scale(domain=series_dom,
                                                               range=[[1, 0], [1, 0], [2.5, 4], [2.5, 4]]),
                                  legend=alt.Legend(title=None)),
        strokeWidth=alt.StrokeWidth("series:N", scale=alt.Scale(domain=series_dom, range=[2.8, 2.8, 2.5, 2.5]),
                                    legend=alt.Legend(title=None)),
        opacity=alt.Opacity("series:N", scale=alt.Scale(domain=series_dom, range=[0.72, 0.72, 0.6, 0.6]),
                            legend=alt.Legend(title=None)),
        order=alt.Order("idx:Q"),
    )
    rules, labels = round_marks(17)
    return alt.layer(band("ITAUMA", "#ff0000"), band("FRANKLIN", "#0000ff"), grid, rules, lines,
                     labels).properties(width=W, height=H_COUNT)


top = prob_panel([ITA_00, ITA_45, ITA_95, ITA_145, ITA_195, ITA_245, ITA_295, ITA_345, ITA_395, ITA_445, ITA_495],
                 TITLE_I)
mid = prob_panel([FRA_00, FRA_45, FRA_95, FRA_145, FRA_195, FRA_245, FRA_295, FRA_345, FRA_395, FRA_445, FRA_495],
                 TITLE_F)
bot = count_panel()

chart = alt.vconcat(top, mid, bot, spacing=61, bounds="flush").resolve_scale(
    color="independent", strokeDash="independent", y="independent",
    opacity="independent", strokeWidth="independent"
).properties(
    padding={"left": 21, "top": 22, "right": 20, "bottom": 10}
).configure(font=FONT).configure_view(
    stroke="#262626", strokeWidth=1.4
).configure_axis(
    labelFont=FONT, labelFontSize=14, labelColor="#000000", titleFont=FONT, titleFontSize=14,
    titleFontWeight="normal", titleColor="#000000", tickColor="#262626", tickSize=5, tickWidth=1.1,
    labelPadding=4, domain=False, gridColor="#e3e3e3", gridWidth=1
)

chart.save("out.html", embed_options={"renderer": "svg", "actions": False})
